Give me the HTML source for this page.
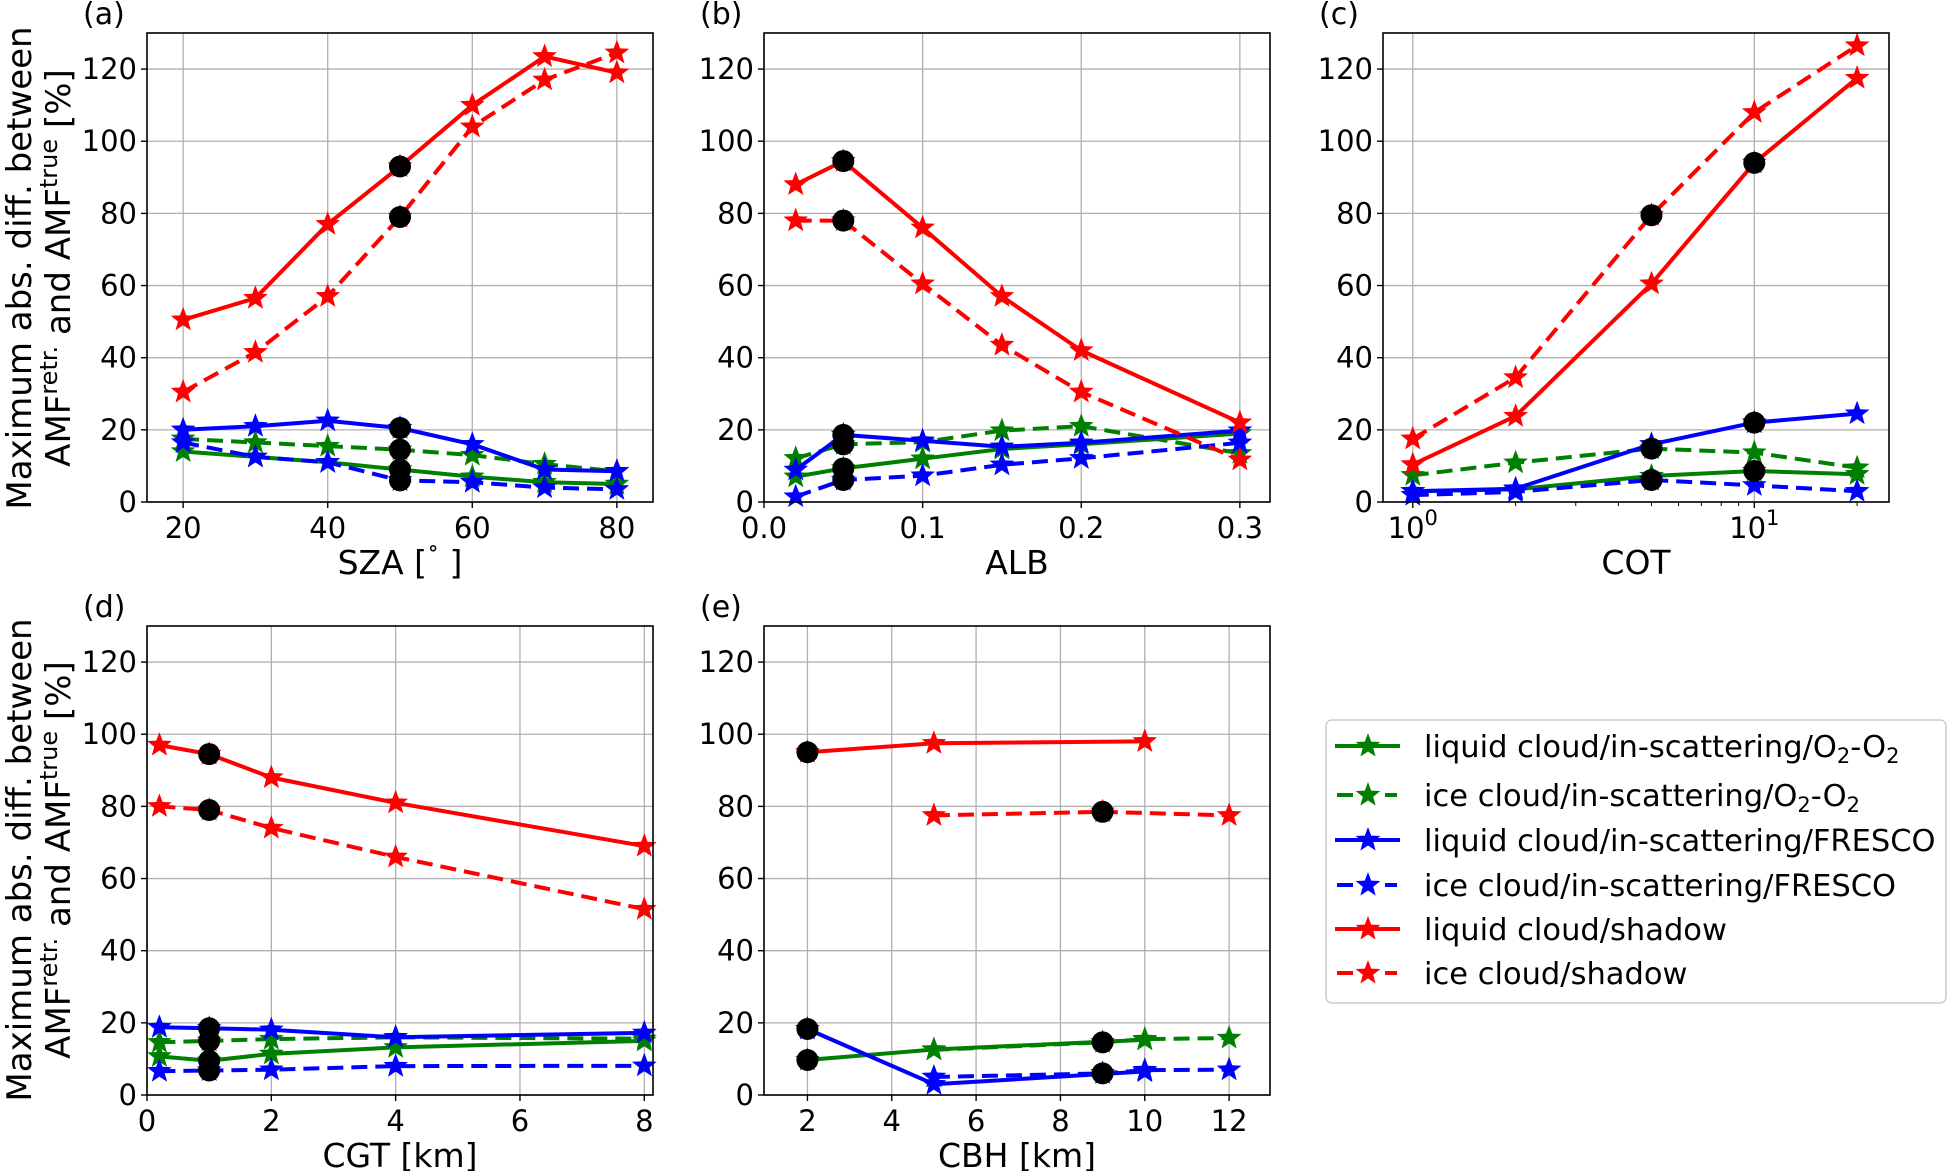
<!DOCTYPE html>
<html><head><meta charset="utf-8"><style>
html,body{margin:0;padding:0;background:#fff;}
svg text{font-family:"DejaVu Sans","Liberation Sans",sans-serif;fill:#000;}
</style></head><body>
<svg id="fig" width="1949" height="1171" viewBox="0 0 1949 1171" xmlns="http://www.w3.org/2000/svg"></svg>
<script>
// ---- data ----
const seriesNames = ['liquid cloud/in-scattering/O2-O2','ice cloud/in-scattering/O2-O2','liquid cloud/in-scattering/FRESCO','ice cloud/in-scattering/FRESCO','liquid cloud/shadow','ice cloud/shadow'];
const seriesColors = ['#008000','#008000','#0000ff','#0000ff','#ff0000','#ff0000'];
const seriesDashed = [false,true,false,true,false,true];

const szaX = [20,30,40,50,60,70,80];
const szaLiqO2 = [14,12.5,11,9,7,5.5,5];
const szaIceO2 = [17.5,16.5,15.5,14.5,13,10.5,8.5];
const szaLiqFR = [20,21,22.5,20.5,16,9,8.5];
const szaIceFR = [16.5,12.5,11,6,5.5,4,3.5];
const szaLiqSh = [50.5,56.5,77,93,110,123.5,119];
const szaIceSh = [30.5,41.5,57,79,104,117,124.5];
const szaDefLiq = 50, szaDefIce = 50;

const albX = [0.02,0.05,0.1,0.15,0.2,0.3];
const albLiqO2 = [7,9.3,12,14.7,16,19];
const albIceO2 = [12.1,16,16.6,19.8,21,13.5];
const albLiqFR = [8.9,18.6,17,15.3,16.4,19.8];
const albIceFR = [1.5,6.1,7.3,10.3,12.1,16.4];
const albLiqSh = [88,94.5,76,57,42,22];
const albIceSh = [78,78,60.5,43.5,30.5,11.7];
const albDefLiq = 0.05, albDefIce = 0.05;

const cotX = [1,2,5,10,20];
const cotLiqO2 = [3,3.5,7.2,8.6,7.7];
const cotIceO2 = [7.4,10.9,14.8,13.7,9.5];
const cotLiqFR = [3,3.7,16,22,24.5];
const cotIceFR = [1.9,2.8,6.1,4.6,3];
const cotLiqSh = [10.4,23.8,60.5,94,117.5];
const cotIceSh = [17.5,34.5,79.5,108,126.5];
const cotDefLiq = 10, cotDefIce = 5;

const cgtX = [0.2,1,2,4,8];
const cgtLiqO2 = [10.7,9.5,11.4,13.2,15];
const cgtIceO2 = [14.6,15,15.5,16,15.6];
const cgtLiqFR = [18.8,18.5,18.1,16,17.2];
const cgtIceFR = [6.6,6.8,7,8,8.1];
const cgtLiqSh = [97,94.5,88,81,69];
const cgtIceSh = [80,79,74,66,51.5];
const cgtDefLiq = 1, cgtDefIce = 1;

const cbhLiqX = [2,5,10];
const cbhIceX = [5,9,10,12];
const cbhIceShX = [5,9,12];
const cbhLiqO2 = [9.7,12.6,15.3];
const cbhIceO2 = [12.5,14.6,15.5,15.8];
const cbhLiqFR = [18.3,3,6.5];
const cbhIceFR = [5,6,6.9,7];
const cbhLiqSh = [95,97.5,98];
const cbhIceSh = [77.5,78.5,77.5];
const cbhDefLiq = 2, cbhDefIce = 9;

const yTicks = [0,20,40,60,80,100,120];

// ---- drawing ----
const NS='http://www.w3.org/2000/svg';
const svg=document.getElementById('fig');
function mk(tag,attrs,parent){const e=document.createElementNS(NS,tag);for(const k in attrs)e.setAttribute(k,attrs[k]);(parent||svg).appendChild(e);return e;}
function starPts(cx,cy,R){const r=R*0.42;let p=[];for(let i=0;i<10;i++){const a=-Math.PI/2+i*Math.PI/5;const rr=i%2?r:R;p.push((cx+rr*Math.cos(a)).toFixed(1)+','+(cy+rr*Math.sin(a)).toFixed(1));}return p.join(' ');}
function interp(xs,ys,x){for(let i=0;i<xs.length;i++)if(xs[i]===x)return ys[i];return null;}

function panel(cfg){
  const {L,T,W,H,xmin,xmax,log,xticks,xtickLabels,xlabel,letter,series,dots,minor}=cfg;
  const g=mk('g',{});
  
  
  const fx=log?(v=>L+(Math.log10(v)-Math.log10(xmin))/(Math.log10(xmax)-Math.log10(xmin))*W):(v=>L+(v-xmin)/(xmax-xmin)*W);
  const fy=v=>T+H-(v/130)*H;
  xticks.forEach(v=>{const l=mk('line',{x1:fx(v),x2:fx(v),y1:T,y2:T+H,stroke:'#b0b0b0','stroke-width':1.3},g);});
  yTicks.forEach(v=>{const l=mk('line',{x1:L,x2:L+W,y1:fy(v),y2:fy(v),stroke:'#b0b0b0','stroke-width':1.3},g);});
  series.forEach((s,i)=>{
    const pts=s.x.map((xv,j)=>fx(xv).toFixed(1)+','+fy(s.y[j]).toFixed(1)).join(' ');
    const pl=mk('polyline',{points:pts,fill:'none',stroke:seriesColors[i],'stroke-width':4,'stroke-linejoin':'round','stroke-dasharray':seriesDashed[i]?'16,8':'none'},g);
    
    
    s.x.forEach((xv,j)=>{const st=mk('polygon',{points:starPts(fx(xv),fy(s.y[j]),13),fill:seriesColors[i]},g);
      
      });
  });
  series.forEach((s,i)=>{
    const dx=(i%2===0)?dots[0]:dots[1];
    const yv=interp(s.x,s.y,dx);
    if(yv!==null){const c=mk('circle',{cx:fx(dx),cy:fy(yv),r:11,fill:'#000'},g);
      
      }
  });
  const fr=mk('rect',{x:L,y:T,width:W,height:H,fill:'none',stroke:'#000','stroke-width':1.6},g);
  
  yTicks.forEach(v=>{mk('line',{x1:L-6,x2:L,y1:fy(v),y2:fy(v),stroke:'#000','stroke-width':1.4},g);
    const t=mk('text',{x:L-10,y:fy(v)+10,'text-anchor':'end','font-size':29},g);t.textContent=v;
    });
  xticks.forEach((v,k)=>{mk('line',{x1:fx(v),x2:fx(v),y1:T+H,y2:T+H+6,stroke:'#000','stroke-width':1.4},g);
    const t=mk('text',{x:fx(v),y:T+H+36,'text-anchor':'middle','font-size':29},g);
    
    if(log){t.textContent='10';const sp=mk('tspan',{'font-size':21,dy:-13},t);sp.textContent=xtickLabels[k];}
    else t.textContent=xtickLabels[k];});
  if(minor) minor.forEach(v=>mk('line',{x1:fx(v),x2:fx(v),y1:T+H,y2:T+H+4,stroke:'#000','stroke-width':1},g));
  const xl=mk('text',{x:L+W/2,y:T+H+72,'text-anchor':'middle','font-size':33},g);xl.innerHTML=xlabel;
  
  const lt=mk('text',{x:L-64,y:T-9,'font-size':30},g);lt.textContent='('+letter+')';
  
}
function S(x,a){return {x:x,y:a};}
const W=506,H=469;
panel({L:147,T:33,W,H,xmin:15,xmax:85,xticks:[20,40,60,80],xtickLabels:['20','40','60','80'],xlabel:'SZA [<tspan dy="-8" font-size="24">˚</tspan><tspan dy="8"> ]</tspan>',letter:'a',
  series:[S(szaX,szaLiqO2),S(szaX,szaIceO2),S(szaX,szaLiqFR),S(szaX,szaIceFR),S(szaX,szaLiqSh),S(szaX,szaIceSh)],dots:[szaDefLiq,szaDefIce]});
panel({L:764,T:33,W,H,xmin:0,xmax:0.319,xticks:[0,0.1,0.2,0.3],xtickLabels:['0.0','0.1','0.2','0.3'],xlabel:'ALB',letter:'b',
  series:[S(albX,albLiqO2),S(albX,albIceO2),S(albX,albLiqFR),S(albX,albIceFR),S(albX,albLiqSh),S(albX,albIceSh)],dots:[albDefLiq,albDefIce]});
panel({L:1383,T:33,W,H,xmin:0.818,xmax:24.8,log:true,xticks:[1,10],xtickLabels:['0','1'],xlabel:'COT',letter:'c',minor:[2,3,4,5,6,7,8,9,20],
  series:[S(cotX,cotLiqO2),S(cotX,cotIceO2),S(cotX,cotLiqFR),S(cotX,cotIceFR),S(cotX,cotLiqSh),S(cotX,cotIceSh)],dots:[cotDefLiq,cotDefIce]});
panel({L:147,T:626,W,H,xmin:0,xmax:8.14,xticks:[0,2,4,6,8],xtickLabels:['0','2','4','6','8'],xlabel:'CGT [km]',letter:'d',
  series:[S(cgtX,cgtLiqO2),S(cgtX,cgtIceO2),S(cgtX,cgtLiqFR),S(cgtX,cgtIceFR),S(cgtX,cgtLiqSh),S(cgtX,cgtIceSh)],dots:[cgtDefLiq,cgtDefIce]});
panel({L:764,T:626,W,H,xmin:0.97,xmax:12.97,xticks:[2,4,6,8,10,12],xtickLabels:['2','4','6','8','10','12'],xlabel:'CBH [km]',letter:'e',
  series:[S(cbhLiqX,cbhLiqO2),S(cbhIceX,cbhIceO2),S(cbhLiqX,cbhLiqFR),S(cbhIceX,cbhIceFR),S(cbhLiqX,cbhLiqSh),S(cbhIceShX,cbhIceSh)],dots:[cbhDefLiq,cbhDefIce]});

[268,860].forEach(cy=>{
  const t1=mk('text',{transform:'translate(31,'+cy+') rotate(-90)','text-anchor':'middle','font-size':34});
  t1.textContent='Maximum abs. diff. between';
  
  
  const t2=mk('text',{transform:'translate(70,'+cy+') rotate(-90)','text-anchor':'middle','font-size':34});
  t2.innerHTML='AMF<tspan font-size="24" dy="-13">retr.</tspan><tspan dy="13"> and AMF</tspan><tspan font-size="24" dy="-13">true</tspan><tspan dy="13"> [%]</tspan>';
  
  
});

const lg=mk('g',{});


mk('rect',{x:1326,y:720,width:620,height:283,rx:6,fill:'#fff',stroke:'#cccccc','stroke-width':1.5},lg);
const legRows=[746,795,840,885,929,973];
const legHtml=['liquid cloud/in-scattering/O<tspan font-size="21" dy="6">2</tspan><tspan dy="-6">-O</tspan><tspan font-size="21" dy="6">2</tspan>',
 'ice cloud/in-scattering/O<tspan font-size="21" dy="6">2</tspan><tspan dy="-6">-O</tspan><tspan font-size="21" dy="6">2</tspan>',
 'liquid cloud/in-scattering/FRESCO','ice cloud/in-scattering/FRESCO','liquid cloud/shadow','ice cloud/shadow'];
legRows.forEach((y,i)=>{
  const e=mk('g',{},lg);
  
  
  mk('line',{x1:seriesDashed[i]?1337:1335,x2:seriesDashed[i]?1397:1400,y1:y,y2:y,stroke:seriesColors[i],'stroke-width':4,'stroke-dasharray':seriesDashed[i]?'16,8':'none'},e);
  if(seriesDashed[i]) mk('rect',{x:1356,y:y-3,width:24,height:6,fill:'#fff'},e);
  mk('polygon',{points:starPts(1368,y,13),fill:seriesColors[i]},e);
  const t=mk('text',{x:1424,y:y+11,'font-size':30.5},e);t.innerHTML=legHtml[i];
});
</script>
</body></html>
